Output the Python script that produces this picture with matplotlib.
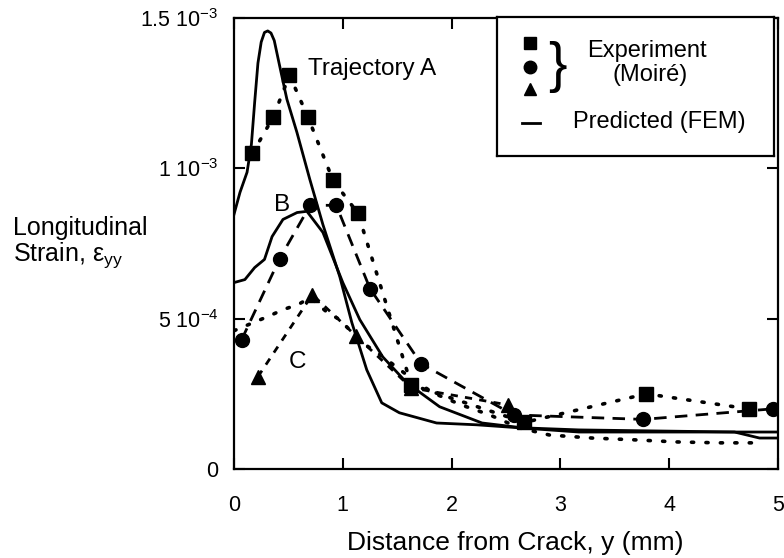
import matplotlib
matplotlib.use("Agg")
import matplotlib.pyplot as plt

plt.rcParams['font.family'] = ['Liberation Sans', 'DejaVu Sans']
plt.rcParams['mathtext.fontset'] = 'custom'
plt.rcParams['mathtext.rm'] = 'Liberation Sans'
plt.rcParams['mathtext.it'] = 'Liberation Sans:italic'

# ---- data (strain values) ----
a_exp_x = [0.17, 0.36, 0.51, 0.68, 0.91, 1.14, 1.63, 2.67, 3.79, 4.73]
a_exp_y = [1.05e-3, 1.17e-3, 1.31e-3, 1.17e-3, 0.96e-3, 0.85e-3, 0.28e-3, 0.155e-3, 0.25e-3, 0.20e-3]

b_exp_x = [0.07, 0.42, 0.70, 0.94, 1.25, 1.72, 2.57, 3.76, 4.95]
b_exp_y = [0.43e-3, 0.70e-3, 0.877e-3, 0.877e-3, 0.60e-3, 0.35e-3, 0.18e-3, 0.165e-3, 0.20e-3]

c_exp_x = [0.22, 0.72, 1.12, 1.63, 2.52]
c_exp_y = [0.307e-3, 0.58e-3, 0.443e-3, 0.27e-3, 0.213e-3]

a_fem_x = [0.0, 0.055, 0.12, 0.16, 0.19, 0.22, 0.25, 0.28, 0.31, 0.34, 0.37, 0.42, 0.486,
           0.578, 0.697, 0.817, 0.972, 1.083, 1.22, 1.358, 1.52, 1.862, 2.23, 3.17, 4.6, 5.0]
a_fem_y = [0.847e-3, 0.92e-3, 0.987e-3, 1.08e-3, 1.22e-3, 1.35e-3, 1.42e-3, 1.452e-3,
           1.457e-3, 1.45e-3, 1.425e-3, 1.34e-3, 1.23e-3, 1.12e-3, 0.963e-3, 0.813e-3,
           0.64e-3, 0.487e-3, 0.33e-3, 0.22e-3, 0.187e-3, 0.153e-3, 0.147e-3, 0.123e-3,
           0.123e-3, 0.123e-3]

b_fem_x = [0.0, 0.10, 0.19, 0.28, 0.35, 0.45, 0.58, 0.67, 0.817, 1.0, 1.156, 1.367,
           1.587, 1.89, 2.28, 2.65, 3.17, 4.6, 4.83, 5.0]
b_fem_y = [0.62e-3, 0.63e-3, 0.67e-3, 0.697e-3, 0.773e-3, 0.83e-3, 0.853e-3, 0.857e-3,
           0.787e-3, 0.62e-3, 0.497e-3, 0.373e-3, 0.287e-3, 0.207e-3, 0.153e-3,
           0.137e-3, 0.13e-3, 0.123e-3, 0.103e-3, 0.103e-3]

c_fem_x = [0.0, 0.33, 0.45, 0.59, 0.70, 0.85, 0.97, 1.18, 1.37, 1.61, 1.83, 2.09,
           2.35, 2.62, 2.9, 3.29, 3.68, 4.07, 4.46, 4.85]
c_fem_y = [0.46e-3, 0.51e-3, 0.53e-3, 0.547e-3, 0.57e-3, 0.523e-3, 0.497e-3, 0.42e-3,
           0.373e-3, 0.307e-3, 0.253e-3, 0.213e-3, 0.18e-3, 0.137e-3, 0.113e-3,
           0.103e-3, 0.097e-3, 0.09e-3, 0.087e-3, 0.087e-3]

x_ticks = [0, 1, 2, 3, 4, 5]
x_tick_labels = ['0', '1', '2', '3', '4', '5']
y_ticks = [0, 0.5e-3, 1.0e-3, 1.5e-3]
y_tick_labels = ['0', '5 10$^{-4}$', '1 10$^{-3}$', '1.5 10$^{-3}$']

W, H = 784, 558
fig = plt.figure(figsize=(W / 100, H / 100), dpi=100)
ax = fig.add_axes([234 / W, 1 - 469 / H, (778 - 234) / W, (469 - 18) / H])

lw = 2.0
ax.plot(a_fem_x, a_fem_y, color='black', lw=lw, solid_joinstyle='round')
ax.plot(b_fem_x, b_fem_y, color='black', lw=lw, solid_joinstyle='round')
ax.plot(c_fem_x, c_fem_y, color='black', lw=2.6, linestyle=(0, (0.6, 3.4)),
        dash_capstyle='round')

ax.plot(a_exp_x, a_exp_y, color='black', lw=2.6, linestyle=(0, (0.6, 3.4)),
        dash_capstyle='round', marker='s', ms=9.5, mfc='black', mec='black')
ax.plot(b_exp_x, b_exp_y, color='black', lw=2.0, linestyle=(0, (4.5, 3.0)),
        marker='o', ms=10, mfc='black', mec='black')
ax.plot(c_exp_x, c_exp_y, color='black', lw=2.0, linestyle=(0, (2.6, 2.6)),
        marker='^', ms=10, mfc='black', mec='black')

ax.set_xlim(0, 5)
ax.set_ylim(0, 1.5e-3)
ax.set_xticks(x_ticks)
ax.set_xticklabels(x_tick_labels, fontsize=15.5)
ax.set_yticks(y_ticks)
ax.set_yticklabels(y_tick_labels, fontsize=15.5)
ax.tick_params(axis='both', direction='in', length=8, width=1.5, top=True, right=True)
ax.tick_params(axis='x', pad=19)
ax.tick_params(axis='y', pad=11)
for s in ax.spines.values():
    s.set_linewidth(1.6)

ax.text(0.68, 1.33e-3, 'Trajectory A', fontsize=17.5, ha='left', va='center')
ax.text(0.44, 0.877e-3, 'B', fontsize=17.5, ha='center', va='center')
ax.text(0.58, 0.357e-3, 'C', fontsize=17.5, ha='center', va='center')

fig.text(515 / W, 1 - 543 / H, 'Distance from Crack, y (mm)', fontsize=19,
         ha='center', va='center')
fig.text(13 / W, 1 - 243 / H, 'Longitudinal\nStrain, ε$_{\\mathrm{yy}}$', fontsize=18,
         ha='left', va='center', linespacing=1.05)

# legend box
lx0, ly0, lx1, ly1 = 497, 17, 774, 156
lax = fig.add_axes([lx0 / W, 1 - ly1 / H, (lx1 - lx0) / W, (ly1 - ly0) / H])
lax.set_xlim(0, lx1 - lx0)
lax.set_ylim(ly1 - ly0, 0)
lax.set_xticks([])
lax.set_yticks([])
lax.set_facecolor('white')
for s in lax.spines.values():
    s.set_linewidth(1.6)
lax.plot([33], [26], marker='s', ms=8, color='black')
lax.plot([33], [50], marker='o', ms=9, color='black')
lax.plot([33], [72], marker='^', ms=8, color='black')
lax.text(60, 50, '}', fontsize=40, ha='center', va='center')
lax.text(90, 34, 'Experiment', fontsize=17, ha='left', va='center')
lax.text(153, 58, '(Moiré)', fontsize=17, ha='center', va='center')
lax.plot([25, 43], [106, 106], color='black', lw=2)
lax.text(76, 105, 'Predicted (FEM)', fontsize=17, ha='left', va='center')

fig.savefig('out.png', dpi=100)
